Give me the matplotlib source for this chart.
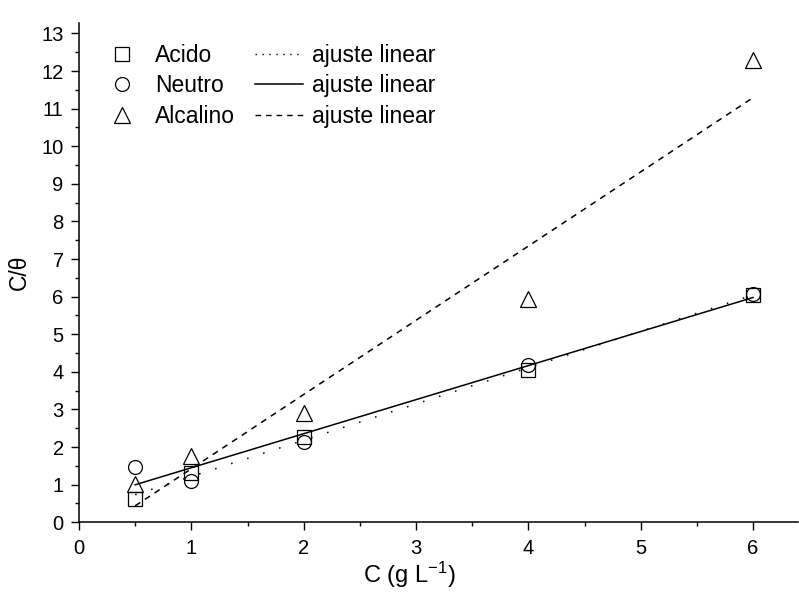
import numpy as np
import matplotlib
matplotlib.use("Agg")
import matplotlib.pyplot as plt
from matplotlib.ticker import MultipleLocator
from matplotlib.lines import Line2D

plt.rcParams['font.family'] = ['Liberation Sans', 'DejaVu Sans']
plt.rcParams['mathtext.fontset'] = 'custom'
plt.rcParams['mathtext.rm'] = 'Liberation Sans'
plt.rcParams['mathtext.it'] = 'Liberation Sans:italic'

conc = [0.5, 1, 2, 4, 6]
acido = [0.61, 1.30, 2.28, 4.05, 6.05]
neutro = [1.48, 1.10, 2.13, 4.17, 6.07]
alcalino = [1.01, 1.76, 2.90, 5.93, 12.30]

names = ["Acido", "Neutro", "Alcalino"]
fit_label = "ajuste linear"
xticks = [0, 1, 2, 3, 4, 5, 6]
yticks = list(range(0, 14))

fig = plt.figure(figsize=(7.99, 5.92), dpi=100)
ax = fig.add_axes([79/799, 1 - 522.3/592, (798-79)/799, (522.3-23.3)/592])

markers = ['s', 'o', '^']
msizes = [9.5, 10, 11.5]
styles = [(0, (1, 10)), '-', (0, (4, 3.6))]
leg_styles = [(0, (1, 4)), '-', (0, (4, 3.6))]
series = [acido, neutro, alcalino]

x = np.array(conc)
mh, lh = [], []
for name, ys, m, ms, ls, lls in zip(names, series, markers, msizes, styles, leg_styles):
    y = np.array(ys)
    slope, icpt = np.polyfit(x, y, 1)
    xf = np.array([x.min(), x.max()])
    ax.plot(xf, slope * xf + icpt, color='black', lw=1.1, linestyle=ls)
    p, = ax.plot(x, y, linestyle='none', marker=m, markersize=ms,
                 markerfacecolor='none', markeredgecolor='black', markeredgewidth=0.9)
    mh.append(p)
    lh.append(Line2D([], [], color='black', lw=1.0 if lls != '-' else 1.1, linestyle=lls))

ax.set_xlim(0, 6.4)
ax.set_ylim(0, 13.27)
ax.set_xticks(xticks)
ax.set_yticks(yticks)
ax.xaxis.set_minor_locator(MultipleLocator(0.5))
ax.yaxis.set_minor_locator(MultipleLocator(0.5))
ax.tick_params(which='major', direction='out', length=5.5, width=1, labelsize=14.5)
ax.tick_params(axis='x', which='major', pad=6.5)
ax.tick_params(axis='y', which='major', pad=5.5)
ax.tick_params(which='minor', direction='out', length=3.2, width=1)
for s in ['top', 'right']:
    ax.spines[s].set_visible(False)
for s in ['left', 'bottom']:
    ax.spines[s].set_linewidth(1.1)

ax.set_xlabel(r"C (g L$^{\mathregular{-1}}$)", fontsize=17)
ax.xaxis.set_label_coords(0.459, -0.075, transform=ax.transAxes)
ax.xaxis.label.set_va('top')
ax.set_ylabel("C/θ", fontsize=16.5)
ax.yaxis.set_label_coords(-0.083, 0.5, transform=ax.transAxes)
ax.yaxis.label.set_va('center')

handles = mh + lh
labels = names + [fit_label] * 3
leg = ax.legend(handles, labels, ncol=2, loc='upper left',
                bbox_to_anchor=(77/799, 1 - 23/592), bbox_transform=fig.transFigure,
                frameon=False, fontsize=16.5,
                handlelength=2.1, columnspacing=0.87, handletextpad=0.4,
                labelspacing=0.33)

fig.savefig("out.png", dpi=100)
